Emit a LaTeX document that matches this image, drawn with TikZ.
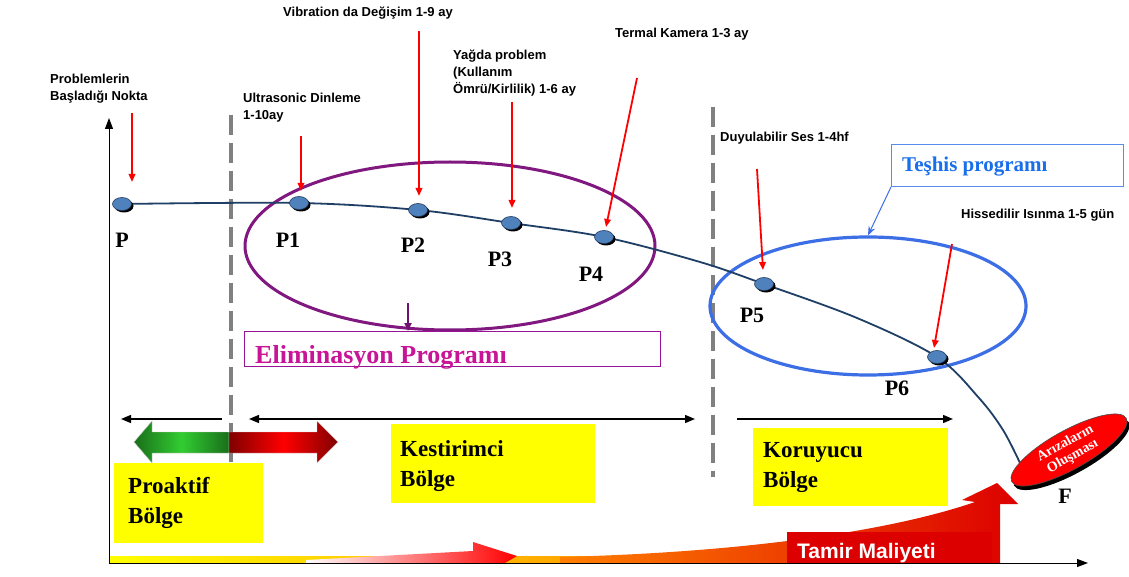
\documentclass[tikz,border=0pt]{standalone}
\usepackage{fontspec}
\setmainfont{Liberation Serif}
\newfontfamily\arialf{Liberation Sans}
\usetikzlibrary{arrows.meta,shapes.geometric,shadows}
\definecolor{ptfill}{RGB}{79,129,189}
\definecolor{ptdraw}{RGB}{36,63,96}
\definecolor{curvec}{RGB}{31,63,102}
\definecolor{purp}{RGB}{128,24,128}
\definecolor{purparr}{RGB}{110,20,110}
\definecolor{magent}{RGB}{200,20,150}
\definecolor{bluel}{RGB}{60,110,230}
\definecolor{bluebox}{RGB}{90,140,240}
\definecolor{bluet}{RGB}{25,110,235}
\definecolor{dashg}{RGB}{128,128,128}
\definecolor{zoney}{RGB}{255,255,0}
\definecolor{darkg}{RGB}{25,110,25}
\definecolor{brightg}{RGB}{50,205,50}
\definecolor{darkr}{RGB}{128,0,0}
\definecolor{costr}{RGB}{220,0,0}
\tikzset{
  ptnode/.style={ellipse, minimum width=19pt, minimum height=13pt, inner sep=0pt,
    fill=ptfill, draw=ptdraw, line width=0.6pt,
    drop shadow={shadow xshift=2pt, shadow yshift=-2pt, fill=black, opacity=1}},
  plabel/.style={font=\bfseries\fontsize{22}{22}\selectfont, anchor=base, inner sep=0pt},
  note/.style={font=\arialf\bfseries\fontsize{13}{17}\selectfont, align=left, anchor=north west, inner sep=0pt},
  redarr/.style={red, line width=1.8pt, -{Triangle[length=8pt,width=6.5pt]}},
  dashline/.style={dashg, line width=3.2pt, dash pattern=on 20pt off 8pt},
  zonebox/.style={fill=zoney, draw=none, anchor=north west, inner sep=0pt},
  zonetext/.style={font=\bfseries\fontsize{23}{30}\selectfont, align=left, anchor=north west, inner sep=0pt},
  blackarr/.style={line width=1.4pt, -{Triangle[length=10pt,width=8pt]}},
  axisarr/.style={line width=1pt, -{Triangle[length=11pt,width=8pt]}},
}
\begin{document}
\begin{tikzpicture}[x=1pt,y=-1pt]
\useasboundingbox[fill=white] (0,0) rectangle (1129,577);

% ---- bottom cost graphic ----
\shade[left color=yellow, right color=orange!80!yellow] (110,556) rectangle (640,563);
\shade[left color=white, right color=red] (306,560) -- (473,551) -- (473,542) -- (517,556) -- (505,563) -- (306,563) -- cycle;
\shade[left color=orange, right color=costr] (560,563) -- (1000,563) -- (1000,504) -- (1018,504)
  -- (997,483) -- (962,500) -- (975,502) .. controls (900,528) and (760,552) .. (560,557) -- cycle;
\node[fill=costr, anchor=north west, minimum width=205pt, minimum height=31pt, inner sep=0pt] (costbox) at (787,532) {};
\node[font=\arialf\bfseries\fontsize{21}{21}\selectfont, text=white, anchor=base west, inner sep=0pt] (costtxt) at (797,558) {Tamir Maliyeti};

% ---- axes ----
\coordinate (origin) at (109,563);
\coordinate (ytop) at (109,118);
\coordinate (xend) at (1088,563);
\draw[axisarr] (origin) -- (ytop);
\draw[axisarr] (origin) -- (xend);

% ---- dashed separators ----
\coordinate (d1t) at (231,115); \coordinate (d1b) at (231,462);
\coordinate (d2t) at (713,107); \coordinate (d2b) at (713,477);
\draw[dashline] (d1t) -- (d1b);
\draw[dashline] (d2t) -- (d2b);

% ---- ellipses ----
\node[ellipse, draw=purp, line width=3pt, minimum width=410pt, minimum height=168pt, inner sep=0pt] (elim) at (450,246) {};
\node[ellipse, draw=bluel, line width=3.2pt, minimum width=316pt, minimum height=138pt, inner sep=0pt] (tesh) at (868,306) {};

% ---- curve and points ----
\coordinate (cP) at (122,204);
\coordinate (cP1) at (299,203);
\coordinate (cP2) at (418,210);
\coordinate (cP3) at (511,223);
\coordinate (cP4) at (604,237);
\coordinate (cP5) at (764,284);
\coordinate (cP6) at (937,357);
\coordinate (k1) at (700,262);
\coordinate (k2) at (857,318);
\coordinate (k3) at (979,398);
\coordinate (k4) at (1003,430);
\coordinate (kend) at (1020,463);
\draw[curvec, line width=1.8pt] plot[smooth, tension=0.55] coordinates
  {(cP) (cP1) (cP2) (cP3) (cP4) (k1) (cP5) (k2) (cP6) (k3) (k4) (kend)};
\node[ptnode] (P) at (cP) {};
\node[ptnode] (P1) at (cP1) {};
\node[ptnode] (P2) at (cP2) {};
\node[ptnode] (P3) at (cP3) {};
\node[ptnode] (P4) at (cP4) {};
\node[ptnode] (P5) at (cP5) {};
\node[ptnode] (P6) at (cP6) {};

% point labels
\node[plabel] (lP) at (122,248) {P};
\node[plabel] (lP1) at (288,248) {P1};
\node[plabel] (lP2) at (413,253) {P2};
\node[plabel] (lP3) at (500,266) {P3};
\node[plabel] (lP4) at (591,281) {P4};
\node[plabel] (lP5) at (752,322) {P5};
\node[plabel] (lP6) at (897,395) {P6};

% ---- failure ellipse ----
\node[ellipse, fill=red, draw=black!70, line width=0.6pt, minimum width=131pt, minimum height=38pt, rotate=29,
  drop shadow={shadow xshift=2.5pt, shadow yshift=-4pt, fill=black, opacity=1},
  align=center, text=white, font=\bfseries\fontsize{14}{15}\selectfont, inner sep=0pt] (fail) at (1069,450) {Arızaların\\Oluşması};
\node[plabel] (lF) at (1065,503) {F};

% ---- annotation texts ----
\node[note] (tprob) at (50,73.5) {Problemlerin\\Başladığı Nokta};
\node[note] (tultra) at (243,92.5) {Ultrasonic Dinleme\\1-10ay};
\node[note] (tvib) at (283,6.5) {Vibration da Değişim 1-9 ay};
\node[note] (tyag) at (453,49.5) {Yağda problem\\(Kullanım\\Ömrü/Kirlilik) 1-6 ay};
\node[note] (tterm) at (615,27.5) {Termal Kamera 1-3 ay};
\node[note] (tduy) at (720,131.5) {Duyulabilir Ses 1-4hf};
\node[note] (this) at (961,208.5) {Hissedilir Isınma 1-5 gün};

% ---- red arrows ----
\coordinate (aP0) at (132,113);  \coordinate (aP1) at (132,182);
\coordinate (b0) at (301,136);   \coordinate (b1) at (301,191);
\coordinate (c0) at (419,31);    \coordinate (c1) at (419,196);
\coordinate (d0) at (512,102);   \coordinate (d1) at (512,208);
\coordinate (e0) at (637,78);    \coordinate (e1) at (606,227);
\coordinate (f0) at (757,169);   \coordinate (f1) at (763,270);
\coordinate (g0) at (952,244);   \coordinate (g1) at (934,348);
\draw[redarr] (aP0) -- (aP1);
\draw[redarr] (b0) -- (b1);
\draw[redarr] (c0) -- (c1);
\draw[redarr] (d0) -- (d1);
\draw[redarr] (e0) -- (e1);
\draw[redarr] (f0) -- (f1);
\draw[redarr] (g0) -- (g1);

% ---- program boxes ----
\node[draw=purp!80!magenta, line width=1pt, anchor=north west, minimum width=416pt, minimum height=35pt, inner sep=0pt] (elimbox) at (244,331) {};
\node[font=\bfseries\fontsize{26}{26}\selectfont, text=magent, anchor=base west, inner sep=0pt] (elimtxt) at (255,363) {Eliminasyon Programı};
\coordinate (pa0) at (408,303);
\draw[purparr, line width=2pt, -{Triangle[length=8pt,width=7pt]}] (pa0) -- (elimbox.north -| pa0);

\node[draw=bluebox, line width=1pt, anchor=north west, minimum width=232pt, minimum height=42pt, inner sep=0pt, fill=white] (teshbox) at (891,144) {};
\node[font=\bfseries\fontsize{21}{21}\selectfont, text=bluet, anchor=base west, inner sep=0pt] (teshtxt) at (902,172) {Teşhis programı};
\draw[bluel, line width=1pt, -{Stealth[length=9pt,width=7pt]}] (teshbox.south west) -- (tesh.north);

% ---- zone arrows ----
\coordinate (z1a) at (222,419); \coordinate (z1b) at (121,419);
\coordinate (z2a) at (249,419); \coordinate (z2b) at (695,419);
\coordinate (z3a) at (737,419); \coordinate (z3b) at (953,419);
\draw[blackarr] (z1a) -- (z1b);
\draw[blackarr, {Triangle[length=10pt,width=8pt]}-{Triangle[length=10pt,width=8pt]}] (z2a) -- (z2b);
\draw[blackarr] (z3a) -- (z3b);

% green / red double arrow
\shade[left color=darkg, right color=darkg, middle color=brightg, draw=gray!40, line width=0.4pt]
  (229,432) -- (152,432) -- (152,421) -- (134,442) -- (152,463) -- (152,453) -- (229,453) -- cycle;
\shade[left color=darkr, right color=darkr, middle color=red, draw=gray!40, line width=0.4pt]
  (229,432) -- (317,432) -- (317,421) -- (338,442) -- (317,463) -- (317,453) -- (229,453) -- cycle;

% ---- zone boxes ----
\node[zonebox, minimum width=149pt, minimum height=80pt] (proakbox) at (114,463) {};
\node[zonetext] (proaktxt) at (128,477) {Proaktif\\Bölge};
\node[zonebox, minimum width=204pt, minimum height=79pt] (kestbox) at (391,424) {};
\node[zonetext] (kesttxt) at (400,440) {Kestirimci\\Bölge};
\node[zonebox, minimum width=195pt, minimum height=78pt] (korubox) at (753,428) {};
\node[zonetext] (korutxt) at (763,442) {Koruyucu\\Bölge};
\end{tikzpicture}
\end{document}
